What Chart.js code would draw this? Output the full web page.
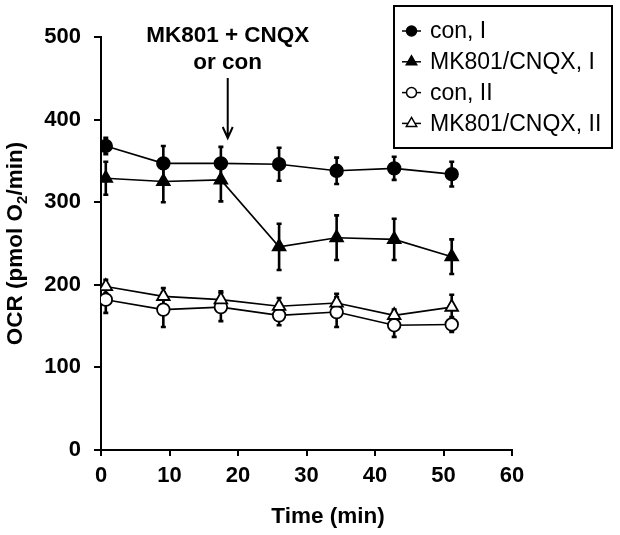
<!DOCTYPE html>
<html><head><meta charset="utf-8">
<script src="https://cdn.jsdelivr.net/npm/chart.js@4/dist/chart.umd.min.js"></script>
<style>html,body{margin:0;padding:0;background:#fff}canvas{display:block}</style>
</head><body>
<canvas id="c" width="620" height="535"></canvas>
<script>
// ---- data ----
const times = [0.7, 9.1, 17.5, 26.0, 34.4, 42.8, 51.2];
const conI = [368, 347, 347, 346, 338, 341, 334];
const conIErr = [10, 21, 20, 20, 16, 14, 15];
const mkI = [329, 325, 327, 246, 257, 255, 234];
const mkIErr = [20, 25, 26, 28, 27, 25, 21];
const conII = [182, 170, 173, 163, 167, 151, 152];
const conIIErr = [16, 21, 17, 12, 18, 14, 9];
const mkII = [198, 186, 182, 174, 178, 163, 173];
const mkIIErr = [8, 10, 10, 10, 11, 7, 15];
const seriesLabels = ['con, I', 'MK801/CNQX, I', 'con, II', 'MK801/CNQX, II'];
const xTicks = [0, 10, 20, 30, 40, 50, 60];
const yTicks = [0, 100, 200, 300, 400, 500];
const arrowTime = 18.5;
const annotationLines = ['MK801 + CNQX', 'or con'];
const xTitle = 'Time (min)';
const yTitleParts = ['OCR (pmol O', '2', '/min)'];

const FONT = "'Liberation Sans', Arial, sans-serif";
const pts = (arr) => arr.map((v, i) => ({x: times[i], y: v}));

const styles = [
  {pointStyle: 'circle', fill: '#000', r: 6.3, lr: 5},
  {pointStyle: 'triangle', fill: '#000', r: 7.3, lr: 6},
  {pointStyle: 'circle', fill: '#fff', r: 6.3, lr: 5},
  {pointStyle: 'triangle', fill: '#fff', r: 7.3, lr: 6}
];
const values = [conI, mkI, conII, mkII];
const errors = [conIErr, mkIErr, conIIErr, mkIIErr];

const datasets = values.map((v, k) => ({
  label: seriesLabels[k],
  data: pts(v),
  errors: errors[k],
  showLine: true,
  borderColor: '#000',
  borderWidth: 1.6,
  pointStyle: styles[k].pointStyle,
  pointRadius: styles[k].r,
  pointHoverRadius: styles[k].r,
  pointBackgroundColor: styles[k].fill,
  pointBorderColor: '#000',
  pointBorderWidth: 1.8,
  order: 4 - k
}));

const errPlugin = {
  id: 'errbars',
  beforeDatasetsDraw(chart) {
    const {ctx, scales: {x, y}} = chart;
    ctx.save();
    ctx.strokeStyle = '#000';
    ctx.lineWidth = 2.6;
    chart.data.datasets.forEach(ds => {
      ds.data.forEach((p, i) => {
        const e = ds.errors[i];
        const px = x.getPixelForValue(p.x);
        const t = y.getPixelForValue(p.y + e);
        const b = y.getPixelForValue(p.y - e);
        ctx.beginPath();
        ctx.moveTo(px, t); ctx.lineTo(px, b);
        ctx.moveTo(px - 2.5, t); ctx.lineTo(px + 2.5, t);
        ctx.moveTo(px - 2.5, b); ctx.lineTo(px + 2.5, b);
        ctx.stroke();
      });
    });
    ctx.restore();
  }
};

function drawMarker(ctx, style, cx, cy, r) {
  ctx.beginPath();
  if (style.pointStyle === 'circle') {
    ctx.arc(cx, cy, r, 0, Math.PI * 2);
  } else {
    const h = r;
    ctx.moveTo(cx, cy - h);
    ctx.lineTo(cx + h * 0.866, cy + h * 0.5);
    ctx.lineTo(cx - h * 0.866, cy + h * 0.5);
    ctx.closePath();
  }
  ctx.fillStyle = style.fill;
  ctx.fill();
  ctx.lineWidth = 1.5;
  ctx.strokeStyle = '#000';
  ctx.stroke();
}

const decoPlugin = {
  id: 'deco',
  afterDraw(chart) {
    const {ctx, scales: {x, y}, chartArea} = chart;
    ctx.save();
    // annotation text + arrow
    const ax = x.getPixelForValue(arrowTime);
    ctx.fillStyle = '#000';
    ctx.font = 'bold 22.5px ' + FONT;
    ctx.textAlign = 'center';
    ctx.textBaseline = 'middle';
    ctx.fillText(annotationLines[0], ax, 36);
    ctx.fillText(annotationLines[1], ax, 63);
    ctx.strokeStyle = '#000';
    ctx.lineWidth = 2;
    ctx.beginPath();
    ctx.moveTo(ax, 78); ctx.lineTo(ax, 138);
    ctx.moveTo(ax - 5, 127); ctx.lineTo(ax, 138); ctx.lineTo(ax + 5, 127);
    ctx.stroke();

    // x title
    ctx.font = 'bold 22.5px ' + FONT;
    ctx.textAlign = 'center';
    ctx.textBaseline = 'alphabetic';
    ctx.fillText(xTitle, 328, 523);

    // legend
    ctx.lineWidth = 2;
    ctx.strokeRect(394, 6, 218, 142);
    ctx.font = '23px ' + FONT;
    ctx.textAlign = 'left';
    ctx.textBaseline = 'middle';
    seriesLabels.forEach((lab, k) => {
      const cy = 31 + k * 30.8;
      ctx.beginPath();
      ctx.lineWidth = 1.5;
      ctx.moveTo(402, cy); ctx.lineTo(421, cy);
      ctx.stroke();
      drawMarker(ctx, styles[k], 411.5, cy, styles[k].lr);
      ctx.fillStyle = '#000';
      ctx.fillText(lab, 430, cy + 1);
    });

    // y title with subscript
    ctx.translate(14, (chartArea.top + chartArea.bottom) / 2);
    ctx.rotate(-Math.PI / 2);
    ctx.textBaseline = 'alphabetic';
    ctx.textAlign = 'left';
    const big = 'bold 22.5px ' + FONT, small = 'bold 15px ' + FONT;
    ctx.font = big; const w0 = ctx.measureText(yTitleParts[0]).width;
    ctx.font = small; const w1 = ctx.measureText(yTitleParts[1]).width;
    ctx.font = big; const w2 = ctx.measureText(yTitleParts[2]).width;
    let sx = -(w0 + w1 + w2) / 2;
    ctx.fillStyle = '#000';
    ctx.font = big; ctx.fillText(yTitleParts[0], sx, 8); sx += w0;
    ctx.font = small; ctx.fillText(yTitleParts[1], sx, 12.5); sx += w1;
    ctx.font = big; ctx.fillText(yTitleParts[2], sx, 8);
    ctx.restore();
  }
};

new Chart(document.getElementById('c'), {
  type: 'scatter',
  data: {datasets},
  plugins: [errPlugin, decoPlugin],
  options: {
    responsive: false,
    animation: false,
    devicePixelRatio: 1,
    layout: {padding: {left: 0, right: 108, top: 37, bottom: 0}},
    plugins: {legend: {display: false}, tooltip: {enabled: false}},
    scales: {
      x: {
        type: 'linear',
        min: 0, max: 60,
        afterFit(s) { s.height = 85; },
        afterBuildTicks(s) { s.ticks = xTicks.map(v => ({value: v})); },
        grid: {display: true, drawOnChartArea: false, drawTicks: true, tickLength: 6, color: '#000', lineWidth: 2},
        border: {display: true, color: '#000', width: 2},
        ticks: {color: '#000', padding: 7, font: {family: FONT, size: 22, weight: 'bold'}},
        title: {display: false}
      },
      y: {
        type: 'linear',
        min: 0, max: 500,
        afterFit(s) { s.width = 101; },
        afterBuildTicks(s) { s.ticks = yTicks.map(v => ({value: v})); },
        grid: {display: true, drawOnChartArea: false, drawTicks: true, tickLength: 7, color: '#000', lineWidth: 2},
        border: {display: true, color: '#000', width: 2},
        ticks: {color: '#000', padding: 13, font: {family: FONT, size: 22, weight: 'bold'}}
      }
    }
  }
});
</script>
</body></html>
